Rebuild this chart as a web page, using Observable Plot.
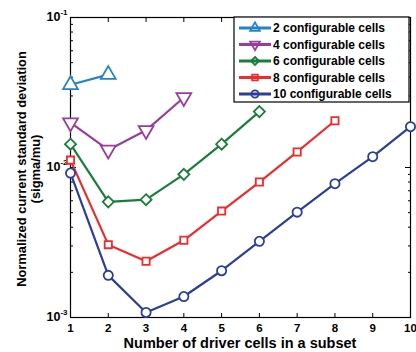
<!DOCTYPE html>
<html><head><meta charset="utf-8">
<script src="https://cdn.jsdelivr.net/npm/d3@7"></script>
<script src="https://cdn.jsdelivr.net/npm/@observablehq/plot@0.6"></script>
<style>
body{margin:0;background:#fff}
#chart{position:relative;width:416px;height:352px}
</style>
</head><body><div id="chart"></div>
<script>
const driverCells = [1,2,3,4,5,6,7,8,9,10];
const cells2  = [0.0356, 0.0416];
const cells4  = [0.0199, 0.0131, 0.0177, 0.0293];
const cells6  = [0.0143, 0.0059, 0.0061, 0.0090, 0.0143, 0.0236];
const cells8  = [0.0112, 0.00306, 0.00237, 0.00327, 0.00512, 0.0080, 0.0127, 0.0205];
const cells10 = [0.00918, 0.00191, 0.00108, 0.00138, 0.00205, 0.00322, 0.00504, 0.0078, 0.0118, 0.0187];
const seriesNames = ["2 configurable cells","4 configurable cells","6 configurable cells","8 configurable cells","10 configurable cells"];
const seriesColors = ["#2484c6","#9a3c9c","#1b7d3c","#ef2b2b","#2b3f9a"];
const seriesSymbols = ["triangle","triangle","diamond2","square2","circle"];
const seriesRotate = [0,180,0,0,0];
const seriesR = [5.5,5.5,5,4.6,4.6];
const yMajorTicks = [1e-3,1e-2,1e-1];
const yMinorTicks = [2e-3,3e-3,4e-3,5e-3,6e-3,7e-3,8e-3,9e-3,2e-2,3e-2,4e-2,5e-2,6e-2,7e-2,8e-2,9e-2];
const xLabel = "Number of driver cells in a subset";
const yLabel1 = "Normalized current standard deviation";
const yLabel2 = "(sigma/mu)";

const allSeries = [cells2, cells4, cells6, cells8, cells10];
const data = [];
allSeries.forEach((vals, i) => vals.forEach((v, j) => data.push({x: driverCells[j], y: v, series: seriesNames[i], idx: i})));

const dotMarks = seriesNames.map((name, i) => Plot.dot(data.filter(d => d.idx === i), {
  x: "x", y: "y", symbol: () => seriesSymbols[i], rotate: seriesRotate[i], r: seriesR[i],
  stroke: seriesColors[i], fill: "white", strokeWidth: 1.8
}));

const svg = Plot.plot({
  width: 416, height: 352,
  marginLeft: 70, marginRight: 6, marginTop: 17, marginBottom: 35,
  style: {fontFamily: "'Liberation Sans', Arial, sans-serif", fontWeight: "bold", fontSize: "11px", color: "#000", background: "#fff"},
  x: {domain: [1, 10]},
  y: {type: "log", domain: [1e-3, 1e-1]},
  symbol: {type: "identity"},
  marks: [
    Plot.axisX({anchor: "bottom", ticks: driverCells, tickSize: -4, text: null, label: null}),
    Plot.axisX({anchor: "bottom", ticks: driverCells, tickSize: 0, tickPadding: 6, tickFormat: d => String(d), label: null, fontSize: 11.5}),
    Plot.axisX({anchor: "top", ticks: driverCells, tickSize: -4, text: null, label: null}),
    Plot.axisY({anchor: "left", ticks: yMajorTicks, tickSize: -6, text: null, label: null}),
    Plot.axisY({anchor: "left", ticks: yMinorTicks, tickSize: -3, text: null, label: null}),
    Plot.axisY({anchor: "right", ticks: yMajorTicks, tickSize: -6, text: null, label: null}),
    Plot.axisY({anchor: "right", ticks: yMinorTicks, tickSize: -3, text: null, label: null}),
    Plot.axisY({anchor: "left", ticks: yMajorTicks, tickSize: 0, tickPadding: 3, tickFormat: d => "10^" + Math.round(Math.log10(d)), label: null}),
    Plot.frame({stroke: "#000", strokeWidth: 1.2}),
    Plot.line(data, {x: "x", y: "y", z: "series", stroke: d => seriesColors[d.idx], strokeWidth: 2.2}),
    ...dotMarks
  ]
});
document.getElementById("chart").appendChild(svg);

const s = d3.select(svg);
// superscript exponents on y tick labels
s.selectAll("text").each(function() {
  const t = d3.select(this);
  const str = t.text();
  const m = /^10\^(-?\d+)$/.exec(str);
  if (!m) return;
  t.selectAll("*").remove();
  t.text("");
  t.append("tspan").attr("font-size", 12.5).text("10");
  t.append("tspan").attr("font-size", 8).attr("dy", "-0.7em").text(m[1]);
});

// axis labels
s.append("text").attr("x", 240).attr("y", 348).attr("text-anchor", "middle")
  .attr("font-size", 14.5).attr("font-weight", "bold").text(xLabel);
const yl = s.append("g").attr("transform", "translate(0,169) rotate(-90)");
yl.append("text").attr("x", 0).attr("y", 26).attr("text-anchor", "middle").attr("font-size", 12.9).attr("font-weight", "bold").text(yLabel1);
yl.append("text").attr("x", 0).attr("y", 40).attr("text-anchor", "middle").attr("font-size", 12.9).attr("font-weight", "bold").text(yLabel2);

// legend
const lg = s.append("g").attr("transform", "translate(234,17)");
lg.append("rect").attr("width", 175).attr("height", 85).attr("fill", "white").attr("stroke", "#000").attr("stroke-width", 1.2);
const symMap = {triangle: d3.symbolTriangle, diamond2: d3.symbolDiamond2, square2: d3.symbolSquare2, circle: d3.symbolCircle};
seriesNames.forEach((name, i) => {
  const row = lg.append("g").attr("transform", `translate(0,${11 + i * 16.5})`);
  row.append("line").attr("x1", 5).attr("x2", 37).attr("y1", 0).attr("y2", 0).attr("stroke", seriesColors[i]).attr("stroke-width", 3);
  row.append("path").attr("transform", `translate(21,0) rotate(${seriesRotate[i]})`)
    .attr("d", d3.symbol(symMap[seriesSymbols[i]], Math.PI * 3.6 * 3.6)())
    .attr("fill", "none").attr("stroke", seriesColors[i]).attr("stroke-width", 1.8);
  row.append("text").attr("x", 39).attr("dy", "0.36em").attr("text-anchor", "start").attr("font-size", 12).attr("font-weight", "bold").text(name);
});
</script>
</body></html>
